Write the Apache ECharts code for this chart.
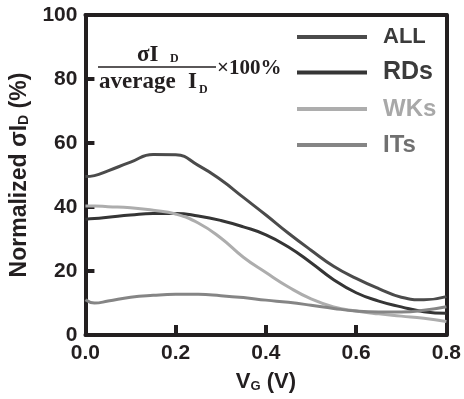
<!DOCTYPE html>
<html>
<head>
<meta charset="utf-8">
<script src="https://cdn.jsdelivr.net/npm/echarts@6/dist/echarts.min.js"></script>
<style>
  html, body { margin: 0; padding: 0; background: #fff; }
  #chart { width: 464px; height: 399px; }
</style>
</head>
<body>
<div id="chart"></div>
<script>
// V_G samples (V)
const vg = [0, 0.02, 0.05, 0.1, 0.15, 0.2, 0.25, 0.3, 0.35, 0.4, 0.45, 0.5, 0.55, 0.6, 0.65, 0.7, 0.75, 0.8];

// normalized sigma I_D (%)
const allVals = [49.5, 49.8, 51.3, 54, 56.4, 56.3, 53, 48.5, 43, 37.5, 31.8, 26.5, 21.5, 17.7, 14.5, 11.8, 11, 12];
const rdVals = [36.2, 36.4, 36.8, 37.5, 38, 38, 37.2, 35.8, 33.8, 31.3, 27.5, 22.6, 17.3, 13.2, 10.6, 8.8, 7.3, 6.8];
const wkVals = [40.3, 40.3, 40.1, 39.8, 39, 37.8, 35, 30.3, 24.3, 19.5, 15, 11.3, 8.8, 7.5, 6.6, 5.9, 5.2, 4.2];
const itVals = [11, 10, 10.6, 11.8, 12.4, 12.7, 12.7, 12.3, 11.7, 10.9, 10.2, 9.3, 8.3, 7.5, 7.2, 7.2, 7.7, 8.8];

const seriesNames = ["ALL", "RDs", "WKs", "ITs"];
const seriesVals = [allVals, rdVals, wkVals, itVals];
const lineColors = ["#4b4b4b", "#353535", "#adadad", "#858585"];
const labelColors = ["#3b3b3b", "#3b3b3b", "#a8a8a8", "#707070"];
const labelSizes = [22, 25, 24, 24];

const axisColor = "#231f20";
const sansFont = "Liberation Sans";
const serifFont = "Liberation Serif";

const chart = echarts.init(document.getElementById("chart"));

const series = seriesNames.map((name, i) => ({
  name,
  type: "line",
  data: vg.map((x, j) => [x, seriesVals[i][j]]),
  smooth: 0.5,
  showSymbol: false,
  color: lineColors[i],
  lineStyle: { width: 3, color: lineColors[i] },
  z: 3,
}));

const frameAxis = {
  type: "value",
  axisLine: { show: true, onZero: false, lineStyle: { color: axisColor, width: 4 } },
  axisTick: { show: false },
  axisLabel: { show: false },
  splitLine: { show: false },
};

chart.setOption({
  animation: false,
  grid: { left: 79, right: 13, top: 15, bottom: 64 },
  xAxis: [
    {
      type: "value",
      min: 0,
      max: 0.8,
      interval: 0.2,
      name: "V{sub|G} (V)",
      nameLocation: "middle",
      nameGap: 35,
      nameTextStyle: {
        fontFamily: sansFont,
        fontWeight: "bold",
        fontSize: 22,
        color: axisColor,
        rich: {
          sub: { fontFamily: sansFont, fontWeight: "bold", fontSize: 13, color: axisColor, padding: [10, 0, 0, 0] },
        },
      },
      axisLine: { show: true, onZero: false, lineStyle: { color: axisColor, width: 4 } },
      axisTick: { show: true, inside: true, length: 10, lineStyle: { color: axisColor, width: 4 } },
      axisLabel: {
        margin: 8,
        fontFamily: sansFont,
        fontWeight: "bold",
        fontSize: 21,
        color: axisColor,
        formatter: (v) => v.toFixed(1),
      },
      splitLine: { show: false },
    },
    Object.assign({ position: "top", min: 0, max: 0.8 }, frameAxis),
  ],
  yAxis: [
    {
      type: "value",
      min: 0,
      max: 100,
      interval: 20,
      name: "Normalized σI{sub|D} (%)",
      nameLocation: "middle",
      nameRotate: 90,
      nameGap: 46,
      nameTextStyle: {
        fontFamily: sansFont,
        fontWeight: "bold",
        fontSize: 23,
        color: axisColor,
        rich: {
          sub: { fontFamily: sansFont, fontWeight: "bold", fontSize: 14, color: axisColor, padding: [10, 0, 0, 0] },
        },
      },
      axisLine: { show: true, onZero: false, lineStyle: { color: axisColor, width: 4 } },
      axisTick: { show: true, inside: true, length: 9, lineStyle: { color: axisColor, width: 4 } },
      axisLabel: {
        margin: 8,
        fontFamily: sansFont,
        fontWeight: "bold",
        fontSize: 21,
        color: axisColor,
      },
      splitLine: { show: false },
    },
    Object.assign({ position: "right", min: 0, max: 100 }, frameAxis),
  ],
  legend: {
    orient: "vertical",
    left: 297,
    top: 26,
    padding: 0,
    icon: "rect",
    itemWidth: 70,
    itemHeight: 4,
    itemGap: 12,
    data: seriesNames.map((name, i) => ({
      name,
      textStyle: {
        fontFamily: sansFont,
        fontWeight: "bold",
        fontSize: labelSizes[i],
        color: labelColors[i],
        padding: [0, 0, 0, 11],
      },
    })),
  },
  graphic: [
    { type: "text", left: 137, top: 44, style: { text: "σI", font: "bold 23px " + serifFont, fill: "#231f20" } },
    { type: "text", left: 170, top: 53, style: { text: "D", font: "bold 12px " + serifFont, fill: "#231f20" } },
    { type: "line", shape: { x1: 98, y1: 67, x2: 216, y2: 67 }, style: { stroke: "#231f20", lineWidth: 1.5 } },
    { type: "text", left: 99, top: 71, style: { text: "average", font: "bold 23px " + serifFont, fill: "#231f20" } },
    { type: "text", left: 188, top: 71, style: { text: "I", font: "bold 23px " + serifFont, fill: "#231f20" } },
    { type: "text", left: 199, top: 84, style: { text: "D", font: "bold 12px " + serifFont, fill: "#231f20" } },
    { type: "text", left: 217, top: 58, style: { text: "×100%", font: "bold 21px " + serifFont, fill: "#231f20" } },
  ],
  series,
});
</script>
</body>
</html>
